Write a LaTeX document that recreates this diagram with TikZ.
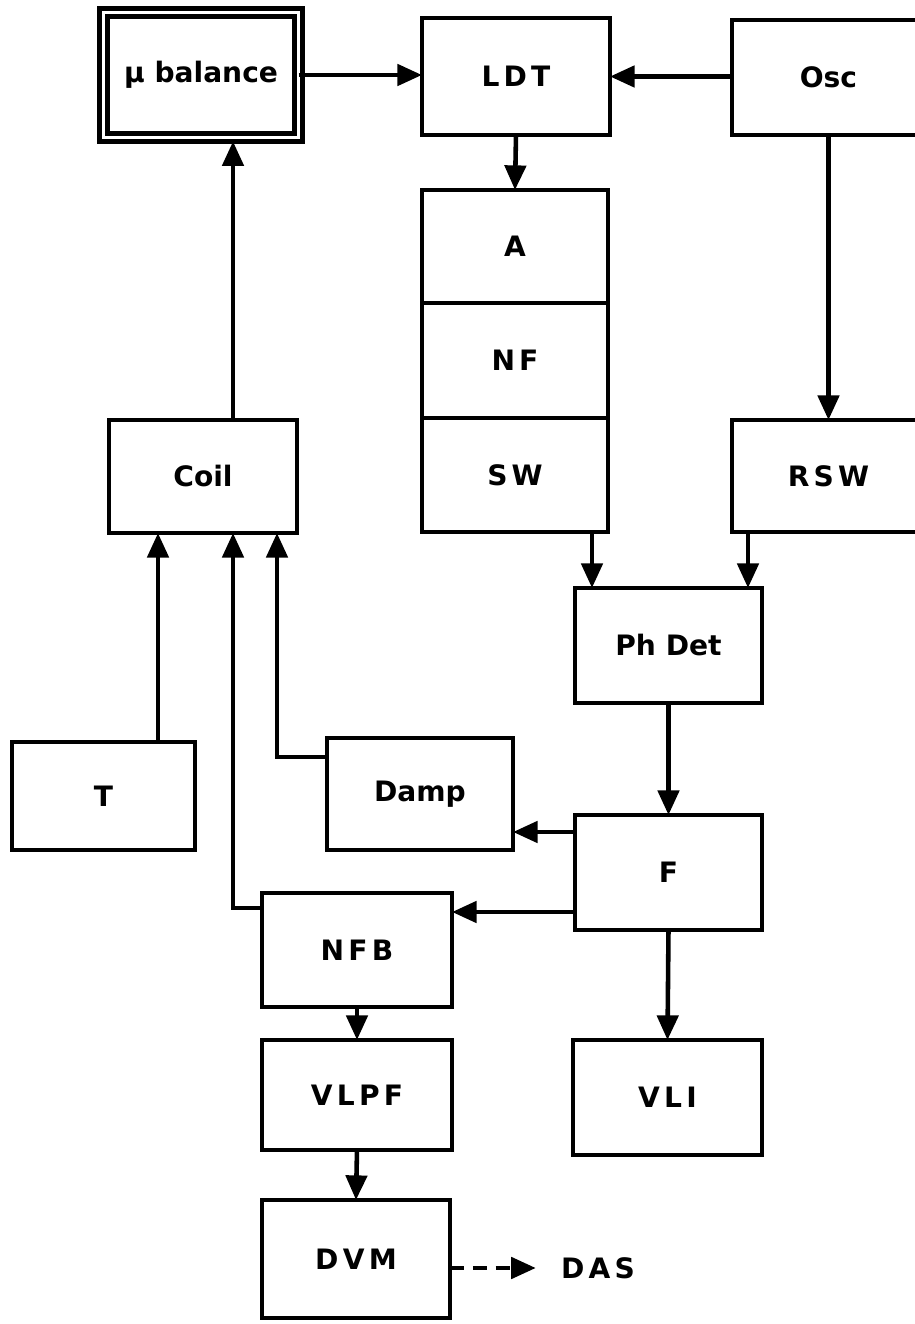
\documentclass[tikz,border=0pt]{standalone}
\usepackage{fontspec}
\newfontfamily\letterfont{DejaVu Sans}
\newfontfamily\spacedfont{DejaVu Sans}[LetterSpace=15]
\usetikzlibrary{arrows.meta, positioning}

\begin{document}
\begin{tikzpicture}[
  font=\letterfont\bfseries\fontsize{8}{9.6}\selectfont,
  box/.style={draw, line width=1.4pt, outer sep=0pt, inner sep=2pt,
              minimum width=1.88cm, minimum height=1.14cm, align=center},
  caps/.style={font=\spacedfont\bfseries\fontsize{8}{9.6}\selectfont},
  arr/.style={-{Triangle[length=7pt, width=6pt]}, line width=1.3pt},
  darr/.style={arr, dash pattern=on 4pt off 2.5pt}
]
\useasboundingbox (0,0) rectangle (9.15,13.24);
\clip (0,0) rectangle (9.15,13.24);

% top row
\node[box, double, line width=1.2pt, double distance=1.1pt,
      minimum width=1.95cm, minimum height=1.25cm] (mubal) at (2.01, 12.49)
  {μ balance};
\node[box, caps, minimum height=1.17cm] (ldt) at (5.16, 12.475) {LDT};
\node[box, minimum width=1.93cm, minimum height=1.15cm] (osc)
  at (8.285, 12.465) {Osc};

% amplifier stack
\node[box, caps, minimum width=1.86cm, minimum height=1.13cm] (ampl)
  at (5.15, 10.775) {A};
\node[box, caps, minimum width=1.86cm, minimum height=1.15cm,
      below=0pt of ampl] (nf) {NF};
\node[box, caps, minimum width=1.86cm, minimum height=1.14cm,
      below=0pt of nf] (sw) {SW};

\node[box, caps, minimum width=1.93cm, minimum height=1.12cm] (rsw)
  at (8.285, 8.48) {RSW};
\node[box, minimum height=1.13cm] (coil) at (2.03, 8.475) {Coil};
\node[box, minimum width=1.87cm, minimum height=1.15cm] (phdet)
  at (6.685, 6.785) {Ph Det};

\node[box, caps, minimum width=1.83cm, minimum height=1.08cm] (temp)
  at (1.035, 5.28) {T};
\node[box, minimum width=1.86cm, minimum height=1.12cm] (damp)
  at (4.20, 5.30) {Damp};
\node[box, caps, minimum width=1.87cm, minimum height=1.15cm] (filt)
  at (6.685, 4.515) {F};

\node[box, caps, minimum width=1.90cm] (nfb) at (3.57, 3.74) {NFB};
\node[box, caps, minimum width=1.90cm, minimum height=1.10cm] (vlpf)
  at (3.57, 2.29) {VLPF};
\node[box, caps, minimum width=1.89cm, minimum height=1.15cm] (vli)
  at (6.675, 2.265) {VLI};
\node[box, caps, minimum height=1.18cm] (dvm) at (3.56, 0.65) {DVM};
\node[caps, inner sep=2pt] (das) at (5.98, 0.56) {DAS};

% signal path
\draw[arr] (mubal.east) -- (mubal.east -| ldt.west);
\draw[arr] (osc.west |- ldt.east) -- (ldt.east);
\draw[arr] (ldt.south) -- (ampl.north);
\draw[arr] (osc.south) -- (rsw.north);
\draw[arr] ([xshift=-0.16cm]sw.south east)
  -- ([xshift=-0.16cm]sw.south east |- phdet.north);
\draw[arr] ([xshift=0.16cm]rsw.south west)
  -- ([xshift=0.16cm]rsw.south west |- phdet.north);
\draw[arr] (phdet.south) -- (filt.north);
\draw[arr] ([yshift=-0.17cm]filt.north west)
  -- ([yshift=-0.17cm]filt.north west -| damp.east);
\draw[arr] ([yshift=0.18cm]filt.south west)
  -- ([yshift=0.18cm]filt.south west -| nfb.east);
\draw[arr] (filt.south) -- (vli.north);
\draw[arr] (nfb.south) -- (vlpf.north);
\draw[arr] (vlpf.south) -- (dvm.north);
\draw[darr, shorten >=5pt] ([yshift=-0.09cm]dvm.east) -- (das.west);

% feedback into the coil
\draw[arr] ([xshift=-0.37cm]temp.north east)
  -- ([xshift=-0.37cm]temp.north east |- coil.south);
\draw[arr] ([yshift=-0.15cm]nfb.north west) -| ([xshift=0.3cm]coil.south);
\draw[arr] ([yshift=-0.19cm]damp.north west) -| ([xshift=-0.2cm]coil.south east);
\draw[arr, shorten >=1.1pt] ([xshift=0.3cm]coil.north)
  -- ([xshift=0.3cm]coil.north |- mubal.south);

\end{tikzpicture}
\end{document}
